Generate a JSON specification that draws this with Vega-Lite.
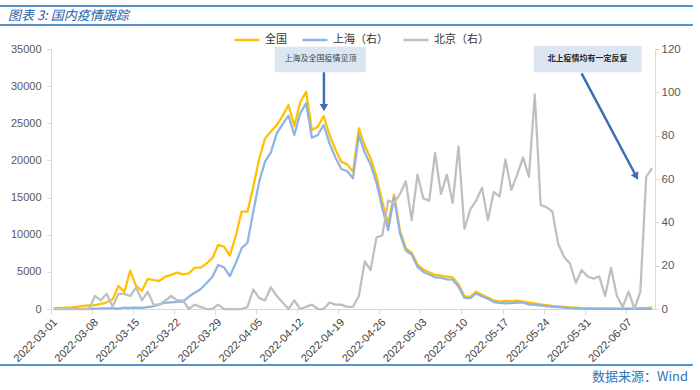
{
  "$schema": "https://vega.github.io/schema/vega-lite/v6.json",
  "width": 604,
  "height": 260,
  "autosize": {"type": "none"},
  "padding": {"left": 51, "top": 49, "right": 45, "bottom": 81},
  "background": "white",
  "config": {
    "view": {"stroke": null},
    "font": "Liberation Sans",
    "axis": {"grid": false, "domainColor": "#d9d9d9", "tickColor": "#d9d9d9", "labelFont": "Liberation Sans"}
  },
  "data": {"values": [
    {"date":"2022-03-01","national":130,"shanghai":2,"beijing":0},
    {"date":"2022-03-02","national":150,"shanghai":8,"beijing":0},
    {"date":"2022-03-03","national":180,"shanghai":14,"beijing":0},
    {"date":"2022-03-04","national":230,"shanghai":19,"beijing":0},
    {"date":"2022-03-05","national":300,"shanghai":20,"beijing":0},
    {"date":"2022-03-06","national":420,"shanghai":30,"beijing":0},
    {"date":"2022-03-07","national":500,"shanghai":50,"beijing":0},
    {"date":"2022-03-08","national":520,"shanghai":60,"beijing":6},
    {"date":"2022-03-09","national":700,"shanghai":75,"beijing":4},
    {"date":"2022-03-10","national":900,"shanghai":75,"beijing":7},
    {"date":"2022-03-11","national":1300,"shanghai":85,"beijing":1},
    {"date":"2022-03-12","national":3100,"shanghai":65,"beijing":7},
    {"date":"2022-03-13","national":2300,"shanghai":170,"beijing":7},
    {"date":"2022-03-14","national":5150,"shanghai":140,"beijing":6},
    {"date":"2022-03-15","national":3100,"shanghai":200,"beijing":10},
    {"date":"2022-03-16","national":2450,"shanghai":160,"beijing":4},
    {"date":"2022-03-17","national":4050,"shanghai":260,"beijing":8},
    {"date":"2022-03-18","national":3900,"shanghai":370,"beijing":2},
    {"date":"2022-03-19","national":3800,"shanghai":630,"beijing":2},
    {"date":"2022-03-20","national":4350,"shanghai":850,"beijing":4},
    {"date":"2022-03-21","national":4600,"shanghai":900,"beijing":6},
    {"date":"2022-03-22","national":4900,"shanghai":950,"beijing":4},
    {"date":"2022-03-23","national":4670,"shanghai":980,"beijing":4},
    {"date":"2022-03-24","national":4800,"shanghai":1650,"beijing":0},
    {"date":"2022-03-25","national":5560,"shanghai":2200,"beijing":2},
    {"date":"2022-03-26","national":5560,"shanghai":2650,"beijing":1},
    {"date":"2022-03-27","national":6100,"shanghai":3460,"beijing":0},
    {"date":"2022-03-28","national":6820,"shanghai":4300,"beijing":0},
    {"date":"2022-03-29","national":8610,"shanghai":5920,"beijing":2},
    {"date":"2022-03-30","national":8390,"shanghai":5610,"beijing":0},
    {"date":"2022-03-31","national":7180,"shanghai":4440,"beijing":0},
    {"date":"2022-04-01","national":9830,"shanghai":6150,"beijing":0},
    {"date":"2022-04-02","national":13100,"shanghai":8170,"beijing":0},
    {"date":"2022-04-03","national":13100,"shanghai":8920,"beijing":1},
    {"date":"2022-04-04","national":16460,"shanghai":13100,"beijing":9},
    {"date":"2022-04-05","national":20200,"shanghai":17140,"beijing":5},
    {"date":"2022-04-06","national":22970,"shanghai":19830,"beijing":4},
    {"date":"2022-04-07","national":23900,"shanghai":21090,"beijing":10},
    {"date":"2022-04-08","national":24770,"shanghai":23650,"beijing":6},
    {"date":"2022-04-09","national":26000,"shanghai":24900,"beijing":3},
    {"date":"2022-04-10","national":27460,"shanghai":26020,"beijing":0},
    {"date":"2022-04-11","national":24630,"shanghai":23420,"beijing":4},
    {"date":"2022-04-12","national":27820,"shanghai":26340,"beijing":0},
    {"date":"2022-04-13","national":29250,"shanghai":27690,"beijing":1},
    {"date":"2022-04-14","national":24090,"shanghai":23060,"beijing":2},
    {"date":"2022-04-15","national":24540,"shanghai":23420,"beijing":0},
    {"date":"2022-04-16","national":25980,"shanghai":24770,"beijing":0},
    {"date":"2022-04-17","national":23420,"shanghai":22300,"beijing":3},
    {"date":"2022-04-18","national":21500,"shanghai":20400,"beijing":2},
    {"date":"2022-04-19","national":19830,"shanghai":18840,"beijing":2},
    {"date":"2022-04-20","national":19470,"shanghai":18570,"beijing":1},
    {"date":"2022-04-21","national":18480,"shanghai":17590,"beijing":1},
    {"date":"2022-04-22","national":24320,"shanghai":23420,"beijing":6},
    {"date":"2022-04-23","national":22000,"shanghai":21060,"beijing":22},
    {"date":"2022-04-24","national":20300,"shanghai":19460,"beijing":18},
    {"date":"2022-04-25","national":17900,"shanghai":16980,"beijing":33},
    {"date":"2022-04-26","national":14400,"shanghai":13560,"beijing":34},
    {"date":"2022-04-27","national":11500,"shanghai":10620,"beijing":50},
    {"date":"2022-04-28","national":15400,"shanghai":15030,"beijing":49},
    {"date":"2022-04-29","national":10600,"shanghai":10180,"beijing":53},
    {"date":"2022-04-30","national":8200,"shanghai":7870,"beijing":59},
    {"date":"2022-05-01","national":7600,"shanghai":7330,"beijing":41},
    {"date":"2022-05-02","national":6000,"shanghai":5670,"beijing":62},
    {"date":"2022-05-03","national":5300,"shanghai":4980,"beijing":51},
    {"date":"2022-05-04","national":4950,"shanghai":4650,"beijing":50},
    {"date":"2022-05-05","national":4600,"shanghai":4270,"beijing":72},
    {"date":"2022-05-06","national":4500,"shanghai":4210,"beijing":53},
    {"date":"2022-05-07","national":4350,"shanghai":3980,"beijing":62},
    {"date":"2022-05-08","national":4250,"shanghai":3950,"beijing":49},
    {"date":"2022-05-09","national":3300,"shanghai":3010,"beijing":75},
    {"date":"2022-05-10","national":1700,"shanghai":1490,"beijing":37},
    {"date":"2022-05-11","national":1650,"shanghai":1450,"beijing":46},
    {"date":"2022-05-12","national":2350,"shanghai":2100,"beijing":50},
    {"date":"2022-05-13","national":1900,"shanghai":1680,"beijing":56},
    {"date":"2022-05-14","national":1550,"shanghai":1370,"beijing":41},
    {"date":"2022-05-15","national":1150,"shanghai":940,"beijing":54},
    {"date":"2022-05-16","national":1000,"shanghai":820,"beijing":52},
    {"date":"2022-05-17","national":1100,"shanghai":760,"beijing":69},
    {"date":"2022-05-18","national":1050,"shanghai":800,"beijing":55},
    {"date":"2022-05-19","national":1120,"shanghai":860,"beijing":62},
    {"date":"2022-05-20","national":1000,"shanghai":850,"beijing":70},
    {"date":"2022-05-21","national":850,"shanghai":620,"beijing":61},
    {"date":"2022-05-22","national":750,"shanghai":550,"beijing":99},
    {"date":"2022-05-23","national":620,"shanghai":480,"beijing":48},
    {"date":"2022-05-24","national":520,"shanghai":390,"beijing":47},
    {"date":"2022-05-25","national":420,"shanghai":300,"beijing":45},
    {"date":"2022-05-26","national":340,"shanghai":250,"beijing":30},
    {"date":"2022-05-27","national":280,"shanghai":200,"beijing":24},
    {"date":"2022-05-28","national":220,"shanghai":130,"beijing":21},
    {"date":"2022-05-29","national":180,"shanghai":90,"beijing":12},
    {"date":"2022-05-30","national":130,"shanghai":60,"beijing":18},
    {"date":"2022-05-31","national":100,"shanghai":30,"beijing":15},
    {"date":"2022-06-01","national":90,"shanghai":15,"beijing":14},
    {"date":"2022-06-02","national":80,"shanghai":10,"beijing":15},
    {"date":"2022-06-03","national":80,"shanghai":8,"beijing":6},
    {"date":"2022-06-04","national":70,"shanghai":6,"beijing":19},
    {"date":"2022-06-05","national":60,"shanghai":5,"beijing":6},
    {"date":"2022-06-06","national":60,"shanghai":4,"beijing":1},
    {"date":"2022-06-07","national":50,"shanghai":4,"beijing":8},
    {"date":"2022-06-08","national":70,"shanghai":5,"beijing":0},
    {"date":"2022-06-09","national":120,"shanghai":10,"beijing":8},
    {"date":"2022-06-10","national":150,"shanghai":15,"beijing":61},
    {"date":"2022-06-11","national":200,"shanghai":20,"beijing":65}
  ]},
  "layer": [
    {
      "layer": [
        {
          "mark": {"type": "line", "strokeWidth": 2.25, "strokeJoin": "round"},
          "encoding": {
            "x": {
              "field": "date", "type": "temporal", "timeUnit": "utcyearmonthdate", "bandPosition": 0.5, "title": null,
              "scale": {"type": "utc", "domain": [{"year": 2022, "month": 3, "date": 1, "utc": true}, {"year": 2022, "month": 6, "date": 12, "utc": true}]},
              "axis": {
                "values": [
                  {"year": 2022, "month": 3, "date": 1, "utc": true},
                  {"year": 2022, "month": 3, "date": 8, "utc": true},
                  {"year": 2022, "month": 3, "date": 15, "utc": true},
                  {"year": 2022, "month": 3, "date": 22, "utc": true},
                  {"year": 2022, "month": 3, "date": 29, "utc": true},
                  {"year": 2022, "month": 4, "date": 5, "utc": true},
                  {"year": 2022, "month": 4, "date": 12, "utc": true},
                  {"year": 2022, "month": 4, "date": 19, "utc": true},
                  {"year": 2022, "month": 4, "date": 26, "utc": true},
                  {"year": 2022, "month": 5, "date": 3, "utc": true},
                  {"year": 2022, "month": 5, "date": 10, "utc": true},
                  {"year": 2022, "month": 5, "date": 17, "utc": true},
                  {"year": 2022, "month": 5, "date": 24, "utc": true},
                  {"year": 2022, "month": 5, "date": 31, "utc": true},
                  {"year": 2022, "month": 6, "date": 7, "utc": true}
                ],
                "format": "%Y-%m-%d",
                "labelAngle": -45,
                "labelAlign": "right",
                "labelBaseline": "top",
                "labelFontSize": 11,
                "labelColor": "#404040",
                "tickSize": 5,
                "labelPadding": 2,
                "labelOverlap": false,
                "labelBound": false,
                "labelFlush": false,
                "title": null
              }
            },
            "y": {
              "field": "national", "type": "quantitative", "title": null,
              "scale": {"domain": [0, 35000], "nice": false},
              "axis": {"values": [0, 5000, 10000, 15000, 20000, 25000, 30000, 35000], "format": "d", "tickSize": 4, "labelPadding": 6, "labelFontSize": 11, "labelColor": "#595959", "labelOverlap": false, "labelFlush": false, "labelBound": false, "title": null}
            },
            "color": {
              "datum": "全国",
              "scale": {"domain": ["全国", "上海（右）", "北京（右）"], "range": ["#FFC000", "#8EB4E3", "#BFBFBF"]},
              "legend": {
                "orient": "none", "legendX": 182, "legendY": -23, "direction": "horizontal", "title": null,
                "symbolType": "stroke", "symbolSize": 625, "symbolStrokeWidth": 2.5,
                "labelFontSize": 11, "labelFont": "Noto Sans CJK SC", "labelColor": "#333333",
                "columnPadding": 10, "labelOffset": 4
              }
            }
          }
        },
        {
          "mark": {"type": "line", "strokeWidth": 2.25, "strokeJoin": "round"},
          "encoding": {
            "x": {"field": "date", "type": "temporal", "timeUnit": "utcyearmonthdate", "bandPosition": 0.5, "title": null},
            "y": {"field": "shanghai", "type": "quantitative", "title": null, "axis": {"values": [0, 5000, 10000, 15000, 20000, 25000, 30000, 35000], "format": "d", "tickSize": 4, "labelPadding": 6, "labelFontSize": 11, "labelColor": "#595959", "labelOverlap": false, "labelFlush": false, "labelBound": false, "title": null}},
            "color": {"datum": "上海（右）"}
          }
        }
      ]
    },
    {
      "mark": {"type": "line", "strokeWidth": 2.25, "strokeJoin": "round"},
      "encoding": {
        "x": {"field": "date", "type": "temporal", "timeUnit": "utcyearmonthdate", "bandPosition": 0.5, "title": null},
        "y": {
          "field": "beijing", "type": "quantitative", "title": null,
          "scale": {"domain": [0, 120], "nice": false},
          "axis": {"orient": "right", "values": [0, 20, 40, 60, 80, 100, 120], "tickSize": 4, "labelPadding": 2, "labelFontSize": 11.5, "labelColor": "#595959", "labelOverlap": false, "labelFlush": false, "title": null}
        },
        "color": {"datum": "北京（右）"}
      }
    },
    {
      "data": {"values": [{}]},
      "layer": [
        {
          "mark": {"type": "rect", "color": "#DCE6F2"},
          "encoding": {
            "x": {"datum": {"year": 2022, "month": 4, "date": 8, "hours": 3, "utc": true}, "type": "temporal", "title": null},
            "x2": {"datum": {"year": 2022, "month": 4, "date": 23, "hours": 16, "utc": true}},
            "y": {"datum": 35300, "type": "quantitative", "scale": {"domain": [0, 35000], "nice": false}, "axis": null},
            "y2": {"datum": 31860}
          }
        },
        {
          "mark": {"type": "rect", "color": "#DCE6F2"},
          "encoding": {
            "x": {"datum": {"year": 2022, "month": 5, "date": 22, "hours": 8, "utc": true}, "type": "temporal", "title": null},
            "x2": {"datum": {"year": 2022, "month": 6, "date": 9, "hours": 17, "utc": true}},
            "y": {"datum": 35400, "type": "quantitative", "scale": {"domain": [0, 35000], "nice": false}, "axis": null},
            "y2": {"datum": 31860}
          }
        },
        {
          "mark": {"type": "text", "fontSize": 8, "color": "#404040", "font": "Noto Sans CJK SC", "align": "center", "baseline": "middle"},
          "encoding": {
            "x": {"datum": {"year": 2022, "month": 4, "date": 15, "hours": 22, "minutes": 30, "utc": true}, "type": "temporal", "title": null},
            "y": {"datum": 33600, "type": "quantitative", "scale": {"domain": [0, 35000], "nice": false}, "axis": null},
            "text": {"value": "上海及全国疫情见顶"}
          }
        },
        {
          "mark": {"type": "text", "fontSize": 8, "fontWeight": "bold", "color": "#262626", "font": "Noto Sans CJK SC", "align": "center", "baseline": "middle"},
          "encoding": {
            "x": {"datum": {"year": 2022, "month": 5, "date": 31, "hours": 12, "utc": true}, "type": "temporal", "title": null},
            "y": {"datum": 33600, "type": "quantitative", "scale": {"domain": [0, 35000], "nice": false}, "axis": null},
            "text": {"value": "北上疫情均有一定反复"}
          }
        },
        {
          "mark": {"type": "rule", "color": "#3D6DB3", "strokeWidth": 2.5},
          "encoding": {
            "x": {"datum": {"year": 2022, "month": 4, "date": 16, "hours": 13, "utc": true}, "type": "temporal", "title": null},
            "y": {"datum": 31860, "type": "quantitative", "scale": {"domain": [0, 35000], "nice": false}, "axis": null},
            "y2": {"datum": 27500}
          }
        },
        {
          "mark": {"type": "point", "shape": "triangle-down", "filled": true, "size": 70, "color": "#3D6DB3", "opacity": 1},
          "encoding": {
            "x": {"datum": {"year": 2022, "month": 4, "date": 16, "hours": 13, "utc": true}, "type": "temporal", "title": null},
            "y": {"datum": 27100, "type": "quantitative", "scale": {"domain": [0, 35000], "nice": false}, "axis": null}
          }
        },
        {
          "mark": {"type": "rule", "color": "#3D6DB3", "strokeWidth": 2.5},
          "encoding": {
            "x": {"datum": {"year": 2022, "month": 5, "date": 30, "hours": 11, "minutes": 30, "utc": true}, "type": "temporal", "title": null},
            "x2": {"datum": {"year": 2022, "month": 6, "date": 8, "hours": 19, "minutes": 30, "utc": true}},
            "y": {"datum": 31720, "type": "quantitative", "scale": {"domain": [0, 35000], "nice": false}, "axis": null},
            "y2": {"datum": 17835}
          }
        },
        {
          "mark": {"type": "point", "shape": "triangle-up", "angle": 152, "filled": true, "size": 70, "color": "#3D6DB3", "opacity": 1},
          "encoding": {
            "x": {"datum": {"year": 2022, "month": 6, "date": 8, "hours": 19, "minutes": 30, "utc": true}, "type": "temporal", "title": null},
            "y": {"datum": 17835, "type": "quantitative", "scale": {"domain": [0, 35000], "nice": false}, "axis": null}
          }
        },
        {
          "mark": {"type": "rule", "color": "#1F6FB5", "strokeWidth": 1.3},
          "encoding": {
            "x": {"datum": {"year": 2022, "month": 2, "date": 20, "hours": 5, "utc": true}, "type": "temporal", "title": null},
            "x2": {"datum": {"year": 2022, "month": 6, "date": 18, "hours": 11, "utc": true}},
            "y": {"datum": 40787, "type": "quantitative", "scale": {"domain": [0, 35000], "nice": false}, "axis": null}
          }
        },
        {
          "mark": {"type": "rule", "color": "#1F6FB5", "strokeWidth": 1.3},
          "encoding": {
            "x": {"datum": {"year": 2022, "month": 2, "date": 20, "hours": 5, "utc": true}, "type": "temporal", "title": null},
            "x2": {"datum": {"year": 2022, "month": 6, "date": 18, "hours": 11, "utc": true}},
            "y": {"datum": 38229, "type": "quantitative", "scale": {"domain": [0, 35000], "nice": false}, "axis": null}
          }
        },
        {
          "mark": {"type": "rule", "color": "#1F6FB5", "strokeWidth": 1.3},
          "encoding": {
            "x": {"datum": {"year": 2022, "month": 2, "date": 20, "hours": 5, "utc": true}, "type": "temporal", "title": null},
            "x2": {"datum": {"year": 2022, "month": 6, "date": 18, "hours": 11, "utc": true}},
            "y": {"datum": -7538, "type": "quantitative", "scale": {"domain": [0, 35000], "nice": false}, "axis": null}
          }
        },
        {
          "mark": {"type": "text", "fontSize": 13, "fontStyle": "italic", "color": "#1F5FA8", "font": "Noto Sans CJK SC", "align": "left", "baseline": "middle"},
          "encoding": {
            "x": {"datum": {"year": 2022, "month": 2, "date": 21, "hours": 16, "utc": true}, "type": "temporal", "title": null},
            "y": {"datum": 39508, "type": "quantitative", "scale": {"domain": [0, 35000], "nice": false}, "axis": null},
            "text": {"value": "图表 3: 国内疫情跟踪"}
          }
        },
        {
          "mark": {"type": "text", "fontSize": 13, "color": "#2E75B6", "font": "Noto Sans CJK SC", "align": "right", "baseline": "middle"},
          "encoding": {
            "x": {"datum": {"year": 2022, "month": 6, "date": 17, "hours": 15, "utc": true}, "type": "temporal", "title": null},
            "y": {"datum": -9153, "type": "quantitative", "scale": {"domain": [0, 35000], "nice": false}, "axis": null},
            "text": {"value": "数据来源：Wind"}
          }
        }
      ]
    }
  ],
  "resolve": {"scale": {"y": "independent"}}
}
